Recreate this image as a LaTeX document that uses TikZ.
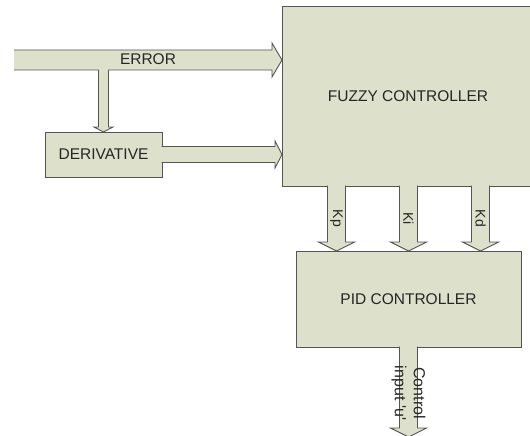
\documentclass[tikz,border=0pt]{standalone}
\usepackage{fontspec}
\setmainfont{Liberation Sans}
\usetikzlibrary{calc}
\definecolor{boxfill}{RGB}{221,224,202}
\definecolor{boxline}{RGB}{85,85,85}

\newcommand{\fatdown}[2]{%
  \filldraw[blk] ($(#1)+(-9,-0.5)$) -- ($(#2)+(-9,-9)$) -- ($(#2)+(-18,-9)$) -- (#2)
    -- ($(#2)+(18,-9)$) -- ($(#2)+(9,-9)$) -- ($(#1)+(9,-0.5)$);}

\begin{document}
\begin{tikzpicture}[x=1pt, y=-1pt,
  blk/.style={fill=boxfill, draw=boxline, line width=0.9pt},
  box/.style={blk, outer sep=0pt, inner sep=0pt, text=black!85},
  lbl/.style={text=black!85, inner sep=0pt},
  every node/.style={font=\fontsize{15.5}{18}\selectfont}]
	\clip (0,0) rectangle (530,436);
	\node[box, minimum width=252pt, minimum height=180pt] (fuzzy) at (408,96) {FUZZY CONTROLLER};
	\node[box, minimum width=117pt, minimum height=45pt] (deriv) at (103.5,154.5) {DERIVATIVE};
	\node[box, minimum width=225pt, minimum height=96pt] (pid) at (408.5,299) {PID CONTROLLER};
	\coordinate (in) at (14,60);
	\coordinate (errtip) at (fuzzy.west |- in);
	\coordinate (br) at (deriv.north |- in);
	\filldraw[blk] ($(in)+(0,-10)$) -- ($(errtip)+(-10,-10)$) -- ($(errtip)+(-10,-17)$) -- (errtip)
		-- ($(errtip)+(-10,17)$) -- ($(errtip)+(-10,10)$) -- ($(br)+(5,10)$) -- ($(deriv.north)+(5,-5)$)
		-- ($(deriv.north)+(9.5,-5)$) -- (deriv.north) -- ($(deriv.north)+(-9.5,-5)$) -- ($(deriv.north)+(-5,-5)$)
		-- ($(br)+(-5,10)$) -- ($(in)+(0,10)$);
	\node[lbl] (err) at ($(in)+(134,-1)$) {ERROR};
	\coordinate (dtip) at (fuzzy.west |- deriv.east);
	\filldraw[blk] ($(deriv.east)+(-0.5,-8)$) -- ($(dtip)+(-7,-8)$) -- ($(dtip)+(-7,-13.5)$) -- (dtip)
		-- ($(dtip)+(-7,13.5)$) -- ($(dtip)+(-7,8)$) -- ($(deriv.east)+(-0.5,8)$);
	\foreach \dx/\lab in {-72/Kp, 0/Ki, 72/Kd} {
		\coordinate (t\lab) at ($(pid.north)+(\dx,0)$);
		\coordinate (s\lab) at (fuzzy.south -| t\lab);
		\fatdown{s\lab}{t\lab}
		\node[lbl, rotate=-90, font=\fontsize{14}{16}\selectfont] (n\lab) at ($(s\lab)!0.5!(t\lab)$) {\lab};
	}
	\coordinate (out) at ($(pid.south)+(0,90)$);
	\fatdown{pid.south}{out}
	\node[lbl, rotate=-90, align=center, font=\fontsize{16}{19}\selectfont] (u) at ($(pid.south)+(0,46)$) {Control\\input \textquotesingle u\textquotesingle};
\end{tikzpicture}
\end{document}
